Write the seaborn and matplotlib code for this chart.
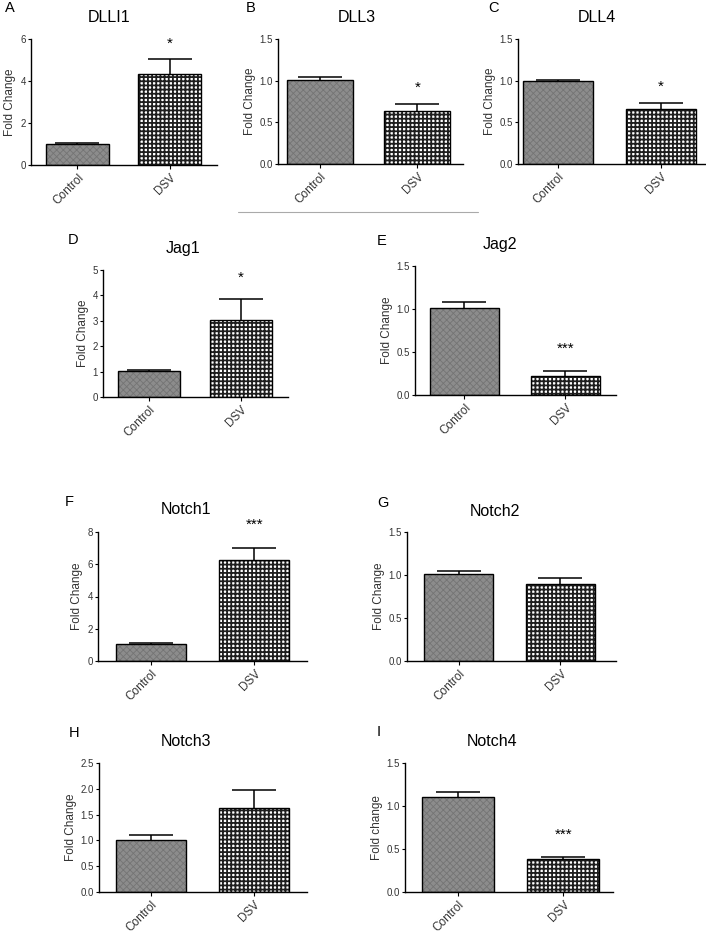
import numpy as np
import pandas as pd
import matplotlib
matplotlib.use("Agg")
import matplotlib.pyplot as plt
import seaborn as sns
from matplotlib.ticker import FormatStrFormatter, MultipleLocator
from matplotlib.colors import to_rgba

# ---------------- data ----------------
genes = ["DLLI1", "DLL3", "DLL4", "Jag1", "Jag2", "Notch1", "Notch2", "Notch3", "Notch4"]
panel_letters = ["A", "B", "C", "D", "E", "F", "G", "H", "I"]
groups = ["Control", "DSV"]
control_mean = [1.00, 1.01, 1.00, 1.02, 1.01, 1.06, 1.01, 1.01, 1.10]
control_err = [0.05, 0.04, 0.01, 0.05, 0.075, 0.04, 0.04, 0.09, 0.06]
dsv_mean = [4.33, 0.64, 0.66, 3.04, 0.22, 6.26, 0.894, 1.63, 0.38]
dsv_err = [0.70, 0.08, 0.075, 0.81, 0.055, 0.74, 0.076, 0.34, 0.025]
stars = ["*", "*", "*", "*", "***", "***", "", "", "***"]
star_y = [5.75, 0.91, 0.93, 4.7, 0.54, 8.45, np.nan, np.nan, 0.66]
y_max = [6, 1.5, 1.5, 5, 1.5, 8, 1.5, 2.5, 1.5]
y_step = [2, 0.5, 0.5, 1, 0.5, 2, 0.5, 0.5, 0.5]
y_labels = ["Fold Change"] * 8 + ["Fold change"]

# ---------------- layout (pixels) ----------------
W, H = 706, 934
boxes = [(31, 217, 39, 165), (278, 463, 39, 164), (518, 705, 39, 164),
         (103, 288, 270, 397), (415, 616, 266, 395),
         (98, 307, 532, 661), (407, 616, 532, 661),
         (99, 307, 763, 892), (405, 613, 763, 892)]
xlims = [(-0.505, 1.516), (-0.43, 1.47), (-0.39, 1.43),
         (-0.5, 1.51), (-0.49, 1.5), (-0.51, 1.51), (-0.51, 1.55),
         (-0.51, 1.52), (-0.5, 1.47)]
title_pos = [(109, 17), (357, 17), (597, 17), (183, 249), (500, 245),
             (186, 510), (495, 511), (186, 741), (492, 742)]
letter_pos = [(5, 8), (246, 8), (488, 8), (68, 240), (377, 241),
              (65, 502), (377, 503), (69, 733), (377, 732)]

sns.set_theme(style="white")
plt.rcParams['font.family'] = ['Liberation Sans', 'DejaVu Sans']
plt.rcParams['hatch.linewidth'] = 1.3

fig = plt.figure(figsize=(W / 100, H / 100), dpi=100)
fig.patch.set_facecolor("white")

def fx(x):
    return x / W

def fy(y):
    return 1 - y / H

# hatch, hatch colour, hatch linewidth
bar_styles = [("xxxxx", "#747474", 0.6), ("++++", "#1e1e1e", 1.3)]

for i, g in enumerate(genes):
    l, r, t, b = boxes[i]
    ax = fig.add_axes([fx(l), fy(b), (r - l) / W, (b - t) / H])
    df = pd.DataFrame({"group": groups, "value": [control_mean[i], dsv_mean[i]]})
    sns.barplot(data=df, x="group", y="value", hue="group",
                palette={"Control": "#8c8c8c", "DSV": "#ffffff"},
                errorbar=None, width=0.68, legend=False, ax=ax,
                edgecolor="black", linewidth=1.0, saturation=1)
    for p, (h, hc, hl) in zip(ax.patches, bar_styles):
        p.set_hatch(h)
        p.set_edgecolor("black")
        p._hatch_color = to_rgba(hc)
        if hasattr(p, "set_hatch_linewidth"):
            p.set_hatch_linewidth(hl)
    eb = ax.errorbar([0, 1], [control_mean[i], dsv_mean[i]],
                     yerr=[[0, 0], [control_err[i], dsv_err[i]]],
                     fmt="none", ecolor="black", elinewidth=1.1,
                     capsize=16, capthick=1.1, zorder=1)
    caps = eb[1]
    if len(caps) == 2:
        caps[0].remove()
    ax.set_ylim(0, y_max[i])
    ax.set_xlim(*xlims[i])
    ax.yaxis.set_major_locator(MultipleLocator(y_step[i]))
    if y_step[i] < 1:
        ax.yaxis.set_major_formatter(FormatStrFormatter("%.1f"))
    else:
        ax.yaxis.set_major_formatter(FormatStrFormatter("%d"))
    sns.despine(ax=ax)
    for s in ["left", "bottom"]:
        ax.spines[s].set_color("black")
        ax.spines[s].set_linewidth(1.0)
    ax.tick_params(axis="y", direction="out", length=2.5, width=0.8,
                   labelsize=7, pad=1, colors="black", labelcolor="#333333", left=True)
    ax.tick_params(axis="x", direction="out", length=3, width=0.8,
                   labelsize=8.5, pad=2, colors="black", labelcolor="#333333", bottom=True)
    ax.set_xlabel("")
    ax.set_ylabel(y_labels[i], fontsize=8.5, color="#333333", labelpad=3)
    for lab in ax.get_xticklabels():
        lab.set_rotation(45)
        lab.set_ha("right")
        lab.set_rotation_mode("anchor")
    if stars[i]:
        ax.text(1, star_y[i], stars[i], ha="center", va="center",
                fontsize=11, color="black", clip_on=False)
    tx, ty = title_pos[i]
    fig.text(fx(tx), fy(ty), g, ha="center", va="center", fontsize=11.5, color="black")
    lx, ly = letter_pos[i]
    fig.text(fx(lx), fy(ly), panel_letters[i], ha="left", va="center", fontsize=10.5, color="black")

fig.add_artist(plt.Line2D([fx(238), fx(478)], [fy(212), fy(212)],
                          color="#aaaaaa", linewidth=0.8))

fig.savefig("out.png", dpi=100, facecolor="white")
